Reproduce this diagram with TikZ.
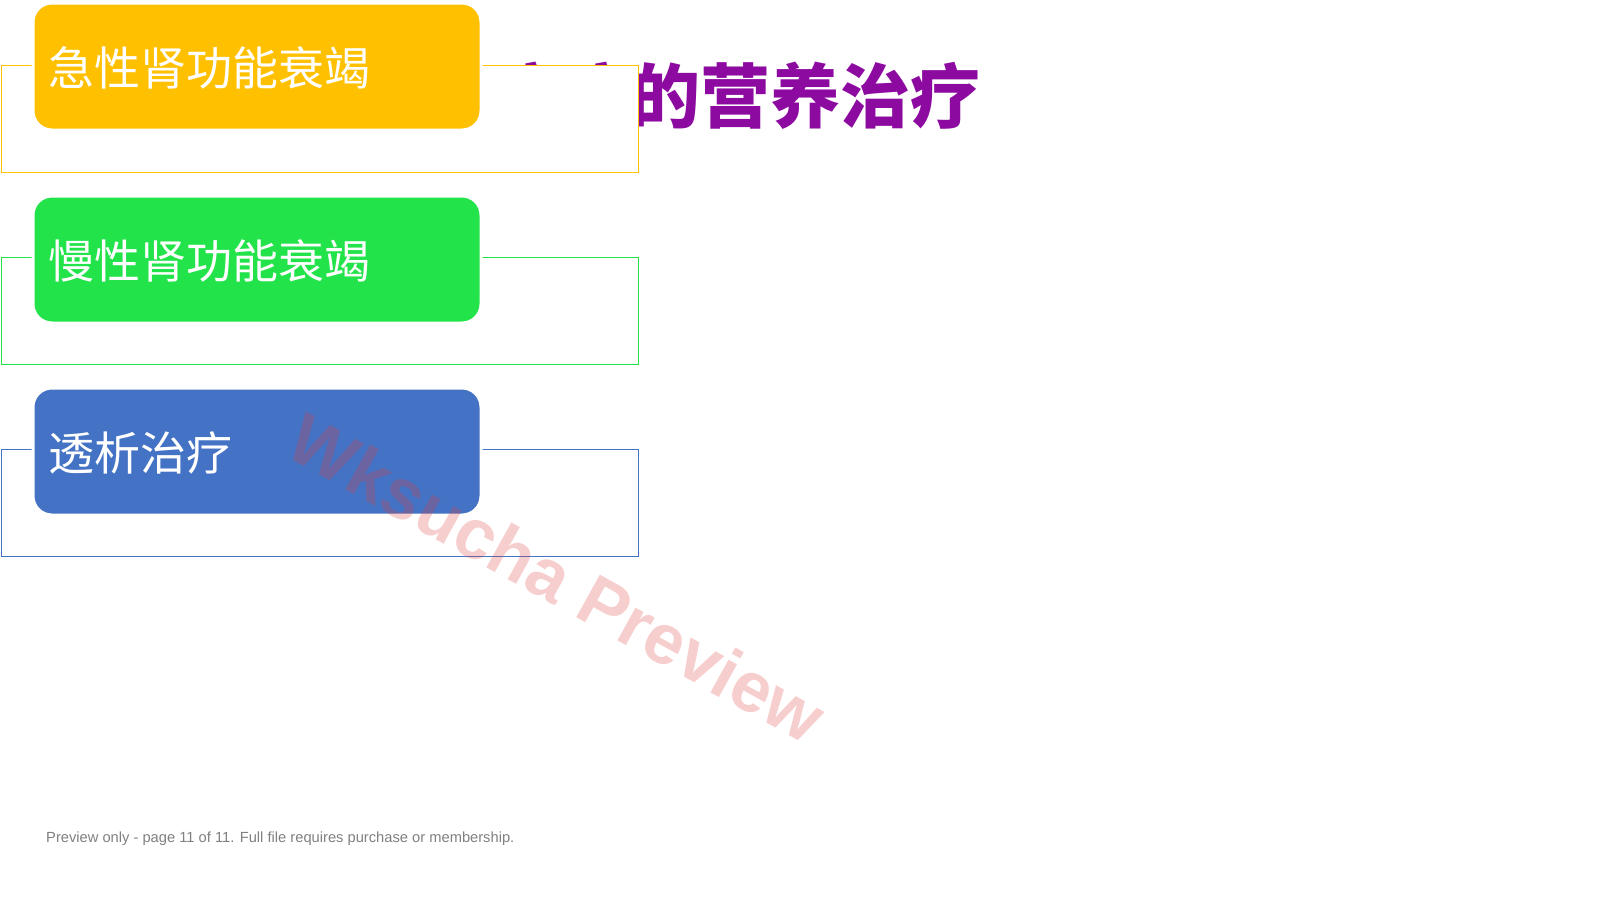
\documentclass[tikz,border=0pt]{standalone}
\usepackage{fontspec}
\setmainfont{Liberation Sans}
\newfontfamily\cjk{Noto Sans CJK SC}
\usetikzlibrary{positioning}
\definecolor{cOrange}{HTML}{FFC000}
\definecolor{cGreen}{HTML}{22E34A}
\definecolor{cBlue}{HTML}{4472C4}
\definecolor{cPurple}{RGB}{140,10,160}
\definecolor{cGray}{RGB}{128,128,128}
\definecolor{cMark}{RGB}{225,60,60}
\tikzset{
  framebox/.style={draw=#1, fill=white, line width=1.2pt, minimum width=637pt, minimum height=107pt, anchor=north west, inner sep=0pt},
  tagbox/.style={fill=#1, draw=white, line width=3pt, rounded corners=19pt, minimum width=448pt, minimum height=127pt, anchor=north west, inner sep=0pt},
  tagtext/.style={text=white, anchor=base west, inner sep=0pt, font=\cjk\fontsize{46}{55}\selectfont},
}
\begin{document}
\begin{tikzpicture}[x=1pt,y=-1pt]
\useasboundingbox (0,0) rectangle (1601,900);
% title (partly hidden)
\node (title) [anchor=base west, inner sep=0pt, text=cPurple, font=\cjk\bfseries\fontsize{70}{84}\selectfont] at (490,122) {疾病的营养治疗};
% frames
\node (f1) [framebox=cOrange] at (0.6,65) {};
\node (f2) [framebox=cGreen] at (0.6,257) {};
\node (f3) [framebox=cBlue] at (0.6,449) {};
% colored tags
\node (b1) [tagbox=cOrange] at (31.5,1.5) {};
\node (b2) [tagbox=cGreen] at (31.5,194.5) {};
\node (b3) [tagbox=cBlue] at (31.5,386.5) {};
\node (t1) [tagtext] at (48,85) {急性肾功能衰竭};
\node (t2) [tagtext] at (48,278) {慢性肾功能衰竭};
\node (t3) [tagtext] at (48,470) {透析治疗};
% watermark
\node (wm) [rotate=-29, text=cMark, text opacity=0.25, inner sep=0pt, font=\bfseries\fontsize{71}{84}\selectfont] at (557,578) {Wksucha Preview};
% footer
\node (foot) [anchor=base west, inner sep=0pt, text=cGray, font=\fontsize{14.7}{17}\selectfont] at (46,842) {Preview only - page 11 of 11. Full file requires purchase or membership.};
\end{tikzpicture}
\end{document}
